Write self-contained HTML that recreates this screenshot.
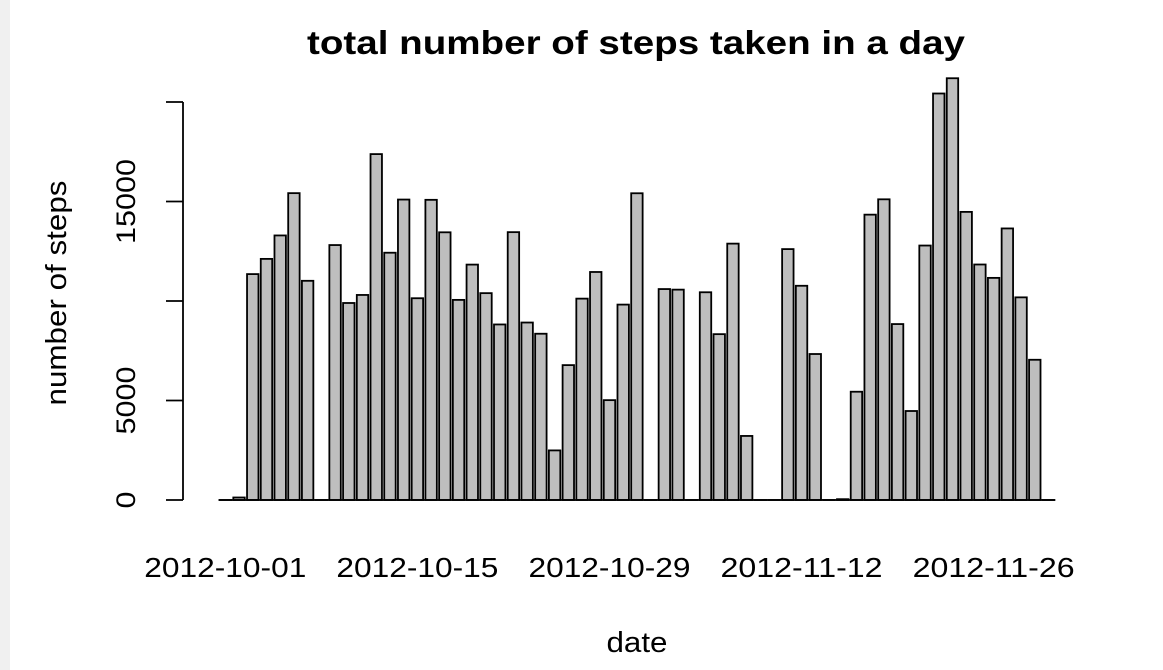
<!DOCTYPE html>
<html><head><meta charset="utf-8"><style>
body{margin:0;background:#fff;}
svg{display:block;font-family:"Liberation Sans",Arial,sans-serif;}
</style></head><body>
<svg id="chart" width="1163" height="670" viewBox="0 0 1163 670">
<rect x="0" y="0" width="10" height="670" fill="#f0f0f0"/>
<text x="636" y="54" text-anchor="middle" font-size="33" font-weight="bold" textLength="658" lengthAdjust="spacingAndGlyphs">total number of steps taken in a day</text>
<text x="637" y="652" text-anchor="middle" font-size="29" textLength="61" lengthAdjust="spacingAndGlyphs">date</text>
<text transform="translate(66,293) rotate(-90)" text-anchor="middle" font-size="29" textLength="225" lengthAdjust="spacingAndGlyphs">number of steps</text>
<g id="yaxis"></g>
<g id="bars"></g>
<g id="xlabels"></g>
</svg>
<script>
const steps = [0,126,11352,12116,13294,15420,11015,0,12811,9900,10304,17382,12426,15098,10139,15084,13452,10056,11829,10395,8821,13460,8918,8355,2492,6778,10119,11458,5018,9819,15414,0,10600,10571,0,10439,8334,12883,3219,0,0,12608,10765,7336,0,41,5441,14339,15110,8841,4472,12787,20427,21194,14478,11834,11162,13646,10183,7047,0];
const yTicks = [0,5000,10000,15000,20000];
const yTickLabels = ["0","5000","","15000",""];
const xLabelIdx = [0,14,28,42,56];
const xLabels = ["2012-10-01","2012-10-15","2012-10-29","2012-11-12","2012-11-26"];

const NS="http://www.w3.org/2000/svg";
const y0=500, yScale=398/20000;
const x0=219.6, slot=13.72, bw=11.43;
function y(v){return y0-v*yScale;}
function x(i){return x0+i*slot;}
const bars=document.getElementById('bars');
steps.forEach((v,i)=>{
  if(v===0){
    const l=document.createElementNS(NS,'line');
    
    
    l.setAttribute('x1',x(i)-1);l.setAttribute('x2',x(i)+bw+1);l.setAttribute('y1',y0);l.setAttribute('y2',y0);
    l.setAttribute('stroke','#000');l.setAttribute('stroke-width','1.8');
    bars.appendChild(l);
    return;
  }
  const r=document.createElementNS(NS,'rect');
  
  
  r.setAttribute('x',x(i));r.setAttribute('y',y(v));
  r.setAttribute('width',bw);r.setAttribute('height',Math.max(0,y0-y(v)));
  r.setAttribute('fill','#bebebe');r.setAttribute('stroke','#000');r.setAttribute('stroke-width','1.8');
  bars.appendChild(r);
});
const bl=document.createElementNS(NS,'line');


bl.setAttribute('x1',x(0)-1);bl.setAttribute('x2',x(steps.length-1)+bw+1);bl.setAttribute('y1',y0);bl.setAttribute('y2',y0);
bl.setAttribute('stroke','#000');bl.setAttribute('stroke-width','1.8');
bars.appendChild(bl);
const ya=document.getElementById('yaxis');
const al=document.createElementNS(NS,'line');


al.setAttribute('x1',183);al.setAttribute('x2',183);al.setAttribute('y1',y(20000));al.setAttribute('y2',y(0));
al.setAttribute('stroke','#000');al.setAttribute('stroke-width','1.8');ya.appendChild(al);
yTicks.forEach((t,k)=>{
  const l=document.createElementNS(NS,'line');
  
  
  l.setAttribute('x1',166);l.setAttribute('x2',183);l.setAttribute('y1',y(t));l.setAttribute('y2',y(t));
  l.setAttribute('stroke','#000');l.setAttribute('stroke-width','1.8');ya.appendChild(l);
  if(yTickLabels[k]){
    const tx=document.createElementNS(NS,'text');
    
    
    tx.setAttribute('transform','translate(135,'+y(t)+') rotate(-90)');
    tx.setAttribute('text-anchor','middle');tx.setAttribute('font-size','27');
    tx.setAttribute('textLength',String(yTickLabels[k].length*17));
    tx.setAttribute('lengthAdjust','spacingAndGlyphs');
    tx.textContent=yTickLabels[k];ya.appendChild(tx);
  }
});
const xl=document.getElementById('xlabels');
xLabelIdx.forEach((i,k)=>{
  const tx=document.createElementNS(NS,'text');
  
  
  tx.setAttribute('x',x(i)+bw/2);tx.setAttribute('y',577);
  tx.setAttribute('text-anchor','middle');tx.setAttribute('font-size','28');
  tx.setAttribute('textLength','162');tx.setAttribute('lengthAdjust','spacingAndGlyphs');
  tx.textContent=xLabels[k];xl.appendChild(tx);
});
</script>
</body></html>
